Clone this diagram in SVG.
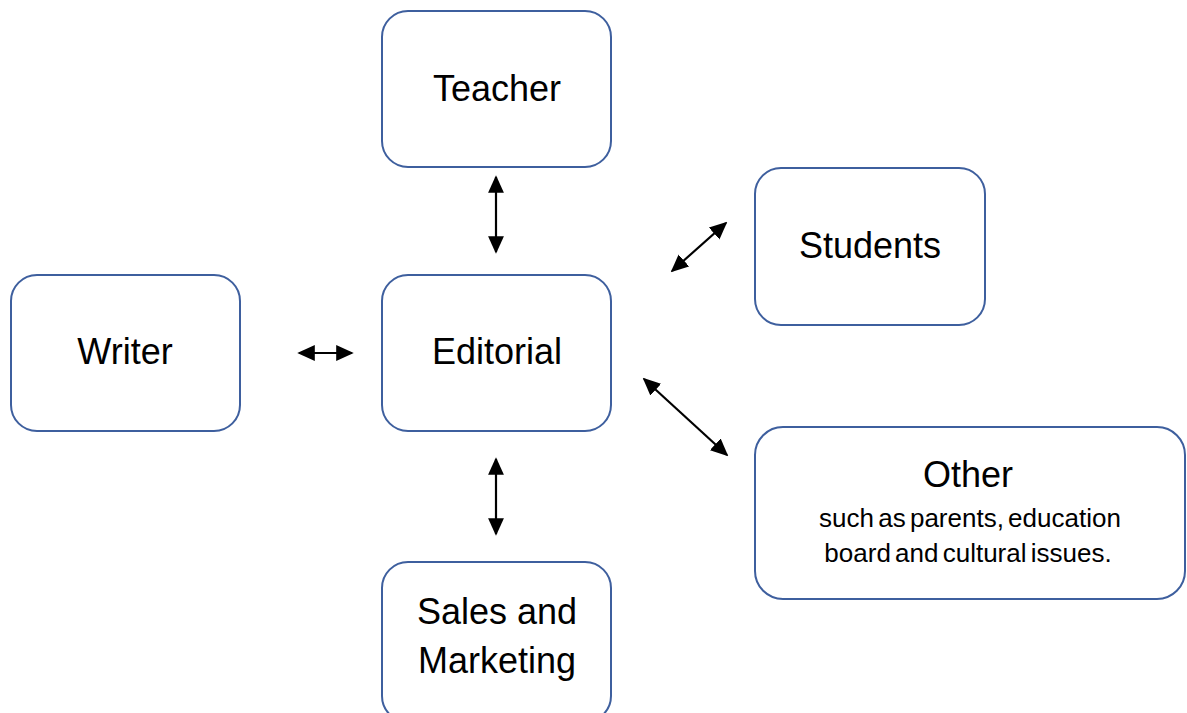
<svg xmlns="http://www.w3.org/2000/svg" width="1187" height="713" viewBox="0 0 1187 713">
<style>
.box{fill:#fff;stroke:#3e5f9e;stroke-width:2}
.t{font-family:"Liberation Sans",Arial,sans-serif;font-size:36px;fill:#000;text-anchor:middle}
.s{font-family:"Liberation Sans",Arial,sans-serif;font-size:26px;fill:#000;text-anchor:middle;word-spacing:-3px}
.c{stroke:#000;stroke-width:2.2;fill:none;marker-start:url(#ah);marker-end:url(#ah)}
</style>
<defs>
<marker id="ah" viewBox="0 0 10 10" refX="9" refY="5" markerWidth="8" markerHeight="8" orient="auto-start-reverse" markerUnits="strokeWidth">
<path d="M0,0.5 L10,5 L0,9.5 z" fill="#000"/>
</marker>
</defs>
<rect width="1187" height="713" fill="#fff"/>
<g id="connectors">
<line class="c" x1="299" y1="353" x2="352" y2="353"/>
<line class="c" x1="496" y1="177" x2="496" y2="252"/>
<line class="c" x1="496" y1="459" x2="496" y2="534"/>
<line class="c" x1="672" y1="271" x2="726" y2="223"/>
<line class="c" x1="644" y1="379" x2="727" y2="455"/>
</g>
<g id="teacher"><rect class="box" x="382" y="11" width="229" height="156" rx="26"/><text class="t" x="497" y="101">Teacher</text></g>
<g id="students"><rect class="box" x="755" y="168" width="230" height="157" rx="26"/><text class="t" x="870" y="258">Students</text></g>
<g id="writer"><rect class="box" x="11" y="275" width="229" height="156" rx="26"/><text class="t" x="125" y="364">Writer</text></g>
<g id="editorial"><rect class="box" x="382" y="275" width="229" height="156" rx="26"/><text class="t" x="497" y="364">Editorial</text></g>
<g id="other"><rect class="box" x="755" y="427" width="430" height="172" rx="28"/><text class="t" x="968" y="487">Other</text><text class="s" x="970" y="527">such as parents, education</text><text class="s" x="968" y="562">board and cultural issues.</text></g>
<g id="sales"><rect class="box" x="382" y="562" width="229" height="160" rx="26"/><text class="t" x="497" y="624">Sales and</text><text class="t" x="497" y="673">Marketing</text></g>
</svg>
